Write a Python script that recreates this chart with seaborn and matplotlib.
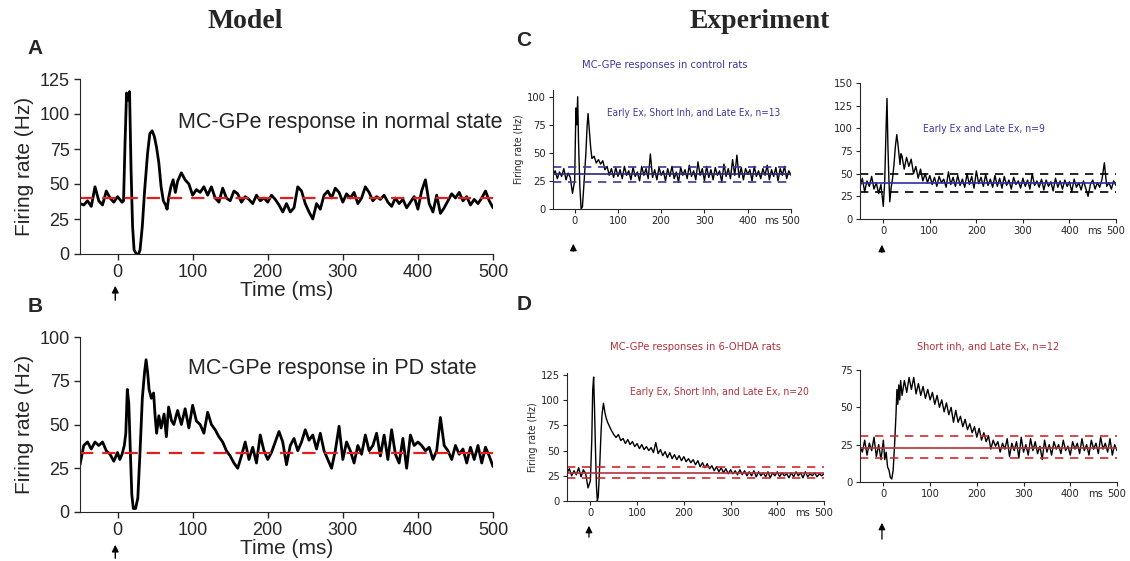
import numpy as np
import matplotlib
matplotlib.use("Agg")
import matplotlib.pyplot as plt
import seaborn as sns

# === data: firing rates (Hz) ===
# each trace = pre-stimulus (-50..-5 ms, 5 ms bins), response window (explicit times), late part (5 ms bins)
a_pre = [36, 35, 38, 34, 48, 38, 35, 45, 40, 37]
a_resp_t = [0, 3, 6, 8, 10, 12, 14, 16, 18, 20, 22, 25, 28, 30, 33, 36, 40, 43, 46, 49,
            52, 55, 58, 61, 64, 66, 68, 71, 74, 77]
a_resp = [41, 39, 37, 38, 80, 115, 110, 116, 60, 20, 3, 0, 0, 3, 20, 45, 72, 86, 88, 84,
          76, 65, 48, 38, 35, 32, 40, 48, 53, 44]
a_post = [52, 58, 53, 50, 42, 46, 44, 48, 42, 48,
          40, 37, 47, 40, 38, 45, 43, 37, 41, 39,
          36, 42, 38, 40, 37, 42, 39, 35, 30, 36,
          30, 33, 48, 45, 36, 30, 25, 36, 32, 42,
          45, 40, 47, 44, 37, 43, 40, 44, 36, 40,
          48, 44, 38, 41, 39, 42, 37, 34, 40, 36,
          39, 33, 37, 41, 32, 45, 53, 36, 30, 42,
          29, 33, 38, 43, 40, 44, 38, 41, 35, 39,
          36, 40, 45, 38, 33]
a_base = 40

b_pre = [27, 38, 40, 36, 40, 38, 40, 35, 33, 29]
b_resp_t = [0, 3, 6, 9, 11, 13, 15, 17, 19, 21, 24, 27, 30, 33, 36, 38, 40, 42, 45, 48,
            50, 52, 55, 58, 62, 65, 68, 72, 75, 78]
b_resp = [34, 30, 33, 38, 45, 70, 62, 35, 10, 2, 2, 8, 35, 65, 80, 87, 80, 70, 65, 68,
          55, 45, 55, 48, 56, 43, 60, 52, 50, 55]
b_post = [58, 50, 59, 48, 61, 52, 50, 45, 57, 50,
          47, 43, 40, 35, 32, 28, 25, 32, 40, 30,
          37, 28, 44, 35, 30, 34, 40, 46, 40, 27,
          38, 42, 35, 40, 47, 41, 44, 36, 45, 35,
          30, 25, 35, 49, 30, 40, 35, 28, 38, 33,
          44, 35, 38, 45, 32, 44, 30, 47, 33, 28,
          42, 25, 44, 38, 40, 38, 35, 37, 30, 35,
          54, 38, 35, 30, 38, 33, 36, 28, 37, 30,
          38, 28, 37, 32, 26]
b_base = 34

c1_pre = [30, 34, 27, 33, 29, 36, 26, 32, 28, 14]
c1_resp_t = [0, 3, 5, 7, 9, 12, 15, 18, 22, 26, 29, 31, 34, 37]
c1_resp = [25, 90, 75, 100, 60, 20, 0, 2, 25, 50, 75, 85, 70, 55]
c1_post = [45, 47, 41, 44, 40, 43, 35, 38, 30, 36,
           28, 37, 29, 35, 27, 38, 30, 34, 26, 37,
           29, 33, 25, 38, 30, 36, 27, 49, 28, 35,
           26, 37, 30, 34, 25, 36, 29, 38, 27, 33,
           24, 37, 30, 35, 27, 39, 29, 34, 26, 42,
           30, 36, 25, 38, 28, 35, 26, 37, 30, 34,
           24, 40, 29, 36, 27, 44, 30, 48, 28, 37,
           26, 36, 31, 35, 25, 38, 29, 34, 27, 36,
           30, 39, 26, 35, 29, 37, 25, 36, 30, 38,
           27, 34, 30]
c1_mean, c1_band = 31, [37, 24]

c2_pre = [35, 45, 30, 42, 36, 47, 33, 40, 28, 38]
c2_resp_t = [0, 3, 6, 8, 10, 12, 14, 17, 20, 23, 26, 29, 31, 33, 36, 38]
c2_resp = [14, 40, 100, 133, 80, 45, 19, 35, 45, 60, 80, 93, 85, 75, 60, 72]
c2_post = [70, 55, 68, 58, 66, 50, 58, 45, 55, 42,
           50, 40, 48, 38, 46, 36, 47, 40, 44, 35,
           52, 38, 46, 36, 48, 37, 44, 35, 50, 38,
           47, 34, 53, 39, 46, 36, 49, 37, 44, 35,
           48, 36, 45, 34, 47, 37, 43, 33, 46, 38,
           42, 34, 45, 36, 43, 33, 50, 37, 42, 35,
           44, 32, 43, 36, 41, 31, 45, 35, 42, 33,
           43, 36, 41, 30, 44, 35, 40, 32, 42, 34,
           25, 38, 43, 33, 40, 35, 44, 62, 36, 40,
           33, 42, 37]
c2_mean, c2_band = 40, [50, 30]

d1_pre = [28, 32, 25, 30, 26, 33, 24, 31, 27, 13]
d1_resp_t = [0, 3, 5, 7, 9, 11, 13, 15, 17, 20, 23, 25, 28, 31, 34, 37]
d1_resp = [20, 60, 110, 123, 90, 50, 15, 0, 5, 35, 70, 86, 97, 88, 82, 78]
d1_post = [75, 70, 66, 63, 66, 60, 62, 57, 61, 56,
           59, 54, 57, 52, 56, 51, 54, 50, 53, 48,
           58, 47, 51, 45, 49, 43, 48, 42, 46, 41,
           45, 40, 44, 39, 42, 38, 41, 36, 40, 34,
           38, 33, 37, 32, 35, 30, 34, 29, 33, 28,
           32, 27, 31, 27, 30, 26, 31, 26, 30, 25,
           29, 25, 30, 24, 29, 25, 28, 24, 29, 23,
           28, 25, 29, 24, 28, 25, 27, 23, 28, 24,
           29, 25, 28, 23, 29, 24, 27, 25, 28, 24,
           27, 25, 27]
d1_mean, d1_band = 28, [34, 23]

d2_pre = [24, 20, 28, 18, 26, 21, 30, 17, 25, 15]
d2_resp_t = [0, 3, 6, 9, 12, 15, 18, 21, 24, 27, 29, 31, 33, 35, 37]
d2_resp = [28, 15, 20, 10, 8, 3, 2, 8, 25, 45, 62, 52, 65, 55, 68]
d2_post = [58, 68, 60, 70, 62, 70, 59, 66, 58, 64,
           56, 62, 55, 60, 52, 58, 50, 55, 47, 53,
           45, 50, 40, 48, 40, 44, 37, 42, 35, 39,
           33, 37, 30, 36, 28, 33, 27, 31, 22, 28,
           24, 27, 20, 26, 22, 29, 17, 26, 21, 27,
           16, 30, 20, 25, 18, 29, 21, 27, 19, 24,
           15, 28, 20, 25, 18, 27, 22, 25, 19, 28,
           21, 24, 18, 27, 22, 26, 19, 29, 21, 25,
           18, 28, 22, 26, 19, 30, 22, 26, 20, 29,
           18, 25, 21]
d2_mean, d2_band = 23, [31, 16]

# === style ===
W, H = 1130, 561
sns.set_style("ticks")
plt.rcParams["font.family"] = ["Liberation Sans", "DejaVu Sans"]
# small condensed labels of the scanned experiment panels
NARROW = dict(family="DejaVu Sans", stretch="condensed")
BLUE = "#3a3a9c"
RED = "#b3303c"


def box(l, t, r, b):
    return [l / W, 1 - b / H, (r - l) / W, (b - t) / H]


def build(pre, resp_t, resp, post, post_start):
    t = np.concatenate([np.arange(-50, 0, 5), resp_t,
                        post_start + 5 * np.arange(len(post))])
    fr = np.concatenate([pre, resp, post])
    return t, fr


fig = plt.figure(figsize=(W / 100, H / 100), dpi=100)

# --- model panels ---
def model_panel(rect, t, fr, base, ymax, label, lx, ly):
    ax = fig.add_axes(box(*rect))
    sns.lineplot(x=t, y=fr, ax=ax, color="black", lw=2.0, estimator=None, sort=False)
    ax.axhline(base, color="#e02020", lw=1.6, dashes=(6, 4))
    ax.set_xlim(-50, 500)
    ax.set_ylim(0, ymax)
    ax.set_xticks(range(0, 501, 100))
    ax.set_yticks(range(0, ymax + 1, 25))
    ax.tick_params(labelsize=13, length=4, width=1)
    for s in ["top", "right"]:
        ax.spines[s].set_visible(False)
    ax.set_ylabel("Firing rate (Hz)", fontsize=15, labelpad=4)
    ax.set_xlabel("Time (ms)", fontsize=15, labelpad=0)
    ax.text(lx, ly, label, transform=ax.transAxes, ha="right", va="center", fontsize=15.5)
    return ax


ta, fa = build(a_pre, a_resp_t, a_resp, a_post, 80)
tb, fb = build(b_pre, b_resp_t, b_resp, b_post, 80)
axA = model_panel((80, 79, 493, 254), ta, fa, a_base, 125, "MC-GPe response in normal state", 1.024, 0.75)
axB = model_panel((80, 337, 493, 512), tb, fb, b_base, 100, "MC-GPe response in PD state", 0.961, 0.82)

# --- experiment panels ---
def exp_panel(rect, t, fr, mean, band, ymax, ytop, mean_col, band_col, ylabel=True):
    ax = fig.add_axes(box(*rect))
    sns.lineplot(x=t, y=fr, ax=ax, color="black", lw=1.0, estimator=None, sort=False)
    ax.axhline(mean, color=mean_col, lw=1.2)
    for b in band:
        ax.axhline(b, color=band_col, lw=1.2, dashes=(5, 4))
    ax.set_xlim(-50, 500)
    ax.set_ylim(0, ymax)
    ax.set_xticks(range(0, 501, 100))
    ax.set_yticks(range(0, ytop + 1, 25))
    ax.tick_params(length=3, width=0.8, pad=2)
    for lab in ax.get_xticklabels() + ax.get_yticklabels():
        lab.set_family(NARROW["family"])
        lab.set_stretch(NARROW["stretch"])
        lab.set_fontsize(8)
    for s in ["top", "right"]:
        ax.spines[s].set_visible(False)
    ax.spines["left"].set_linewidth(0.8)
    ax.spines["bottom"].set_linewidth(0.8)
    ax.annotate("ms", xy=(455, 0), xycoords=("data", "axes fraction"), xytext=(0, -5),
                textcoords="offset points", ha="center", va="top", fontsize=8, **NARROW)
    if ylabel:
        ax.set_ylabel("Firing rate (Hz)", fontsize=7.5, labelpad=2, **NARROW)
    else:
        ax.set_ylabel("")
    return ax


tc1, fc1 = build(c1_pre, c1_resp_t, c1_resp, c1_post, 40)
tc2, fc2 = build(c2_pre, c2_resp_t, c2_resp, c2_post, 40)
td1, fd1 = build(d1_pre, d1_resp_t, d1_resp, d1_post, 40)
td2, fd2 = build(d2_pre, d2_resp_t, d2_resp, d2_post, 40)

axC1 = exp_panel((553, 90, 791, 209), tc1, fc1, c1_mean, c1_band, 106, 100, "#26267a", BLUE)
axC2 = exp_panel((860, 83, 1116, 219), tc2, fc2, c2_mean, c2_band, 150, 150, "#2c2ca0", "black", ylabel=False)
axD1 = exp_panel((567, 373, 824, 501), td1, fd1, d1_mean, d1_band, 127, 125, RED, "#d02a30")
axD2 = exp_panel((860, 370, 1117, 482), td2, fd2, d2_mean, d2_band, 75, 75, RED, "#d02a30", ylabel=False)

# --- figure texts ---
def ftext(x, y, s, **kw):
    fig.text(x / W, 1 - y / H, s, ha="center", va="center", **kw)


ftext(245, 22, "Model", fontsize=20, fontweight="bold", family=["Liberation Serif", "DejaVu Serif"])
ftext(760, 22, "Experiment", fontsize=20, fontweight="bold", family=["Liberation Serif", "DejaVu Serif"])
for x, y, s in [(35, 48, "A"), (35, 306, "B"), (524, 41, "C"), (524, 304, "D")]:
    ftext(x, y, s, fontsize=15, fontweight="bold")

ftext(665, 65, "MC-GPe responses in control rats", fontsize=8, color=BLUE, **NARROW)
ftext(694, 113, "Early Ex, Short Inh, and Late Ex, n=13", fontsize=7.2, color=BLUE, **NARROW)
ftext(984, 129, "Early Ex and Late Ex, n=9", fontsize=7.5, color=BLUE, **NARROW)
ftext(695, 347, "MC-GPe responses in 6-OHDA rats", fontsize=8, color=RED, **NARROW)
ftext(719, 392, "Early Ex, Short Inh, and Late Ex, n=20", fontsize=7.5, color=RED, **NARROW)
ftext(988, 347, "Short inh, and Late Ex, n=12", fontsize=7.8, color=RED, **NARROW)

# stimulus arrows under t=0
for ax, y0, y1, lw in [(axA, 303, 283, 1.0), (axB, 561, 542, 1.0), (axC1, 254, 241, 0.9),
                       (axC2, 255, 242, 0.9), (axD1, 540, 523, 0.9), (axD2, 542, 520, 0.9)]:
    ax.annotate("", xy=(-3, 1 - y1 / H), xytext=(-3, 1 - y0 / H),
                xycoords=("data", "figure fraction"), textcoords=("data", "figure fraction"),
                arrowprops=dict(arrowstyle="-|>", color="black", lw=lw, mutation_scale=10),
                annotation_clip=False)

fig.savefig("out.png", dpi=100)
